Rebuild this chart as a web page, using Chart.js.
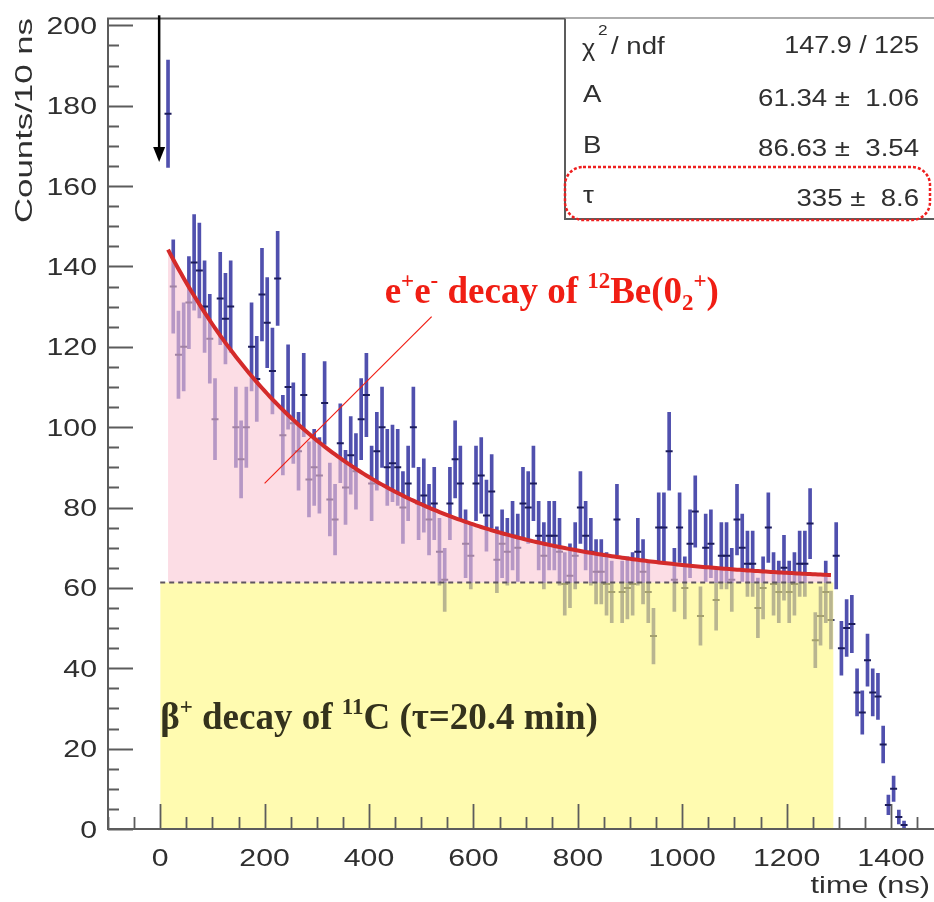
<!DOCTYPE html>
<html>
<head>
<meta charset="utf-8">
<script src="https://cdn.jsdelivr.net/npm/chart.js@4.4.1/dist/chart.umd.min.js"></script>
<style>
  html, body { margin: 0; padding: 0; background: #ffffff; }
  #wrap { width: 934px; height: 902px; overflow: hidden; position: relative; }
  #c { position: absolute; left: 0; top: 0; width: 960px; height: 902px; }
</style>
</head>
<body>
<div id="wrap"><canvas id="c" width="960" height="902"></canvas></div>
<script>
// Decay-time histogram, 10 ns bins (bin centres in ns)
const binCenters = [
  15, 25, 35, 45, 55, 65, 75, 85, 95, 105, 115, 125, 135, 145, 155, 165, 175, 185, 195, 205,
  215, 225, 235, 245, 255, 265, 275, 285, 295, 305, 315, 325, 335, 345, 355, 365, 375, 385, 395, 405,
  415, 425, 435, 445, 455, 465, 475, 485, 495, 505, 515, 525, 535, 545, 555, 565, 575, 585, 595, 605,
  615, 625, 635, 645, 655, 665, 675, 685, 695, 705, 715, 725, 735, 745, 755, 765, 775, 785, 795, 805,
  815, 825, 835, 845, 855, 865, 875, 885, 895, 905, 915, 925, 935, 945, 955, 965, 975, 985, 995, 1005,
  1015, 1025, 1035, 1045, 1055, 1065, 1075, 1085, 1095, 1105, 1115, 1125, 1135, 1145, 1155, 1165, 1175, 1185, 1195, 1205,
  1215, 1225, 1235, 1245, 1255, 1265, 1275, 1285, 1295, 1305, 1315, 1325, 1335, 1345, 1355, 1365, 1375, 1385, 1395, 1405,
  1415, 1425
];

// Counts per bin
const counts = [
  178, 135, 118, 120, 131, 141, 139, 130, 122, 102,
  132, 127, 130, 100, 92, 100, 120, 112, 133, 126,
  114, 137, 98, 110, 101, 94, 108, 87, 90, 88,
  106, 82, 77, 96, 85, 93, 89, 102, 108, 86,
  94, 100, 90, 91, 90, 80, 86, 100, 81, 83,
  77, 81, 69, 62, 81, 92, 86, 71, 68, 86,
  88, 78, 84, 67, 71, 69, 73, 70, 81, 80,
  86, 73, 68, 73, 73, 69, 61, 63, 68, 80,
  73, 69, 64, 64, 61, 59, 77, 59, 60, 61,
  69, 64, 59, 48, 75, 75, 94, 62, 75, 60,
  71, 79, 53, 70, 71, 57, 68, 68, 62, 77,
  70, 66, 66, 55, 60, 75, 61, 59, 65, 59,
  61, 66, 66, 76, 47, 53, 59, 52, 68, 45,
  50, 51, 34, 29, 42, 34, 33, 21, 6, 10,
  3, 1
];

// Fit f(t) = A + B * exp(-t / tau) and its results
const fitA = 61.34, fitAErr = 1.06;
const fitB = 86.63, fitBErr = 3.54;
const fitTau = 335, fitTauErr = 8.6;
const chi2 = 147.9, ndf = 125;
const fitFrom = 15, fitTo = 1285;        // drawn range of the fit curve (ns)
const flatFrom = 0, flatTo = 1290;       // constant background band (ns)

// Axis ticks
const xTickLabels = [0, 200, 400, 600, 800, 1000, 1200, 1400];
const yTickLabels = [0, 20, 40, 60, 80, 100, 120, 140, 160, 180, 200];

// Poisson error bars
const errBars = binCenters.map((t, i) => {
  const e = Math.sqrt(counts[i]);
  return { x: t, y: [counts[i] - e, counts[i] + e] };
});
const centres = binCenters.map((t, i) => ({ x: t, y: counts[i] }));

// Fit curve samples
const curve = [];
for (let t = fitFrom; t <= fitTo; t += 5) {
  curve.push({ x: t, y: fitA + fitB * Math.exp(-t / fitTau) });
}
const flatLine = [{ x: flatFrom, y: fitA }, { x: flatTo, y: fitA }];

const AXIS_COLOR = '#5c5c5c';
const TEXT_COLOR = '#2f2f2f';

function stretchedText(ctx, text, x, y, align, sx) {
  ctx.save();
  ctx.translate(x, y);
  ctx.scale(sx, 1);
  ctx.textAlign = align;
  ctx.fillText(text, 0, 0);
  ctx.restore();
}

// ROOT-style frame, inward ticks, tick labels and axis titles
const rootFrame = {
  id: 'rootFrame',
  afterDraw(chart) {
    const { ctx, chartArea: a, scales: { x, y } } = chart;
    ctx.save();
    ctx.strokeStyle = AXIS_COLOR;
    ctx.lineWidth = 2;
    ctx.beginPath();
    ctx.moveTo(a.left, a.top); ctx.lineTo(a.right, a.top);
    ctx.lineTo(a.right, a.bottom); ctx.lineTo(a.left, a.bottom);
    ctx.closePath();
    ctx.stroke();

    ctx.lineWidth = 1.8;
    ctx.beginPath();
    for (let v = x.min; v <= x.max + 1e-6; v += 50) {
      const px = Math.round(x.getPixelForValue(v)) + 0.5;
      const len = (v % 200 === 0) ? 25 : 12;
      ctx.moveTo(px, a.bottom); ctx.lineTo(px, a.bottom - len);
    }
    for (let v = 0; v <= y.max + 1e-6; v += 5) {
      const py = Math.round(y.getPixelForValue(v)) + 0.5;
      const len = (v % 20 === 0) ? 25 : 11;
      ctx.moveTo(a.left, py); ctx.lineTo(a.left + len, py);
    }
    ctx.stroke();

    ctx.fillStyle = TEXT_COLOR;
    ctx.font = '24px "Liberation Sans", Arial, sans-serif';
    ctx.textBaseline = 'alphabetic';
    xTickLabels.forEach(v => {
      stretchedText(ctx, String(v), x.getPixelForValue(v), a.bottom + 37, 'center', 1.26);
    });
    yTickLabels.forEach(v => {
      stretchedText(ctx, String(v), a.left - 11, y.getPixelForValue(v) + 8.5, 'right', 1.26);
    });

    // axis titles
    stretchedText(ctx, 'time (ns)', 930, a.bottom + 64, 'right', 1.28);
    ctx.save();
    ctx.translate(32, 18);
    ctx.rotate(-Math.PI / 2);
    ctx.scale(1.45, 1);
    ctx.textAlign = 'right';
    ctx.fillText('Counts/10 ns', 0, 0);
    ctx.restore();
    ctx.restore();
  }
};

function richText(ctx, x, y, size, family, parts) {
  let cx = x;
  parts.forEach(p => {
    const s = p.sup || p.sub ? size * 0.62 : size;
    const dy = p.sup ? -size * 0.40 : (p.sub ? size * 0.20 : 0);
    ctx.font = 'bold ' + s + 'px ' + family;
    ctx.textAlign = 'left';
    ctx.fillText(p.t, cx, y + dy);
    cx += ctx.measureText(p.t).width;
  });
}

// Arrow, labels, pointer and fit statistics box
const notes = {
  id: 'notes',
  afterDraw(chart) {
    const { ctx, chartArea: a, scales: { x, y } } = chart;
    ctx.save();

    // arrow at the start of the time window
    const ax = x.getPixelForValue(-2);
    const aTop = y.getPixelForValue(202.5);
    const aTip = y.getPixelForValue(166);
    ctx.strokeStyle = '#000';
    ctx.fillStyle = '#000';
    ctx.lineWidth = 2.5;
    ctx.beginPath();
    ctx.moveTo(ax, aTop); ctx.lineTo(ax, aTip - 12);
    ctx.stroke();
    ctx.beginPath();
    ctx.moveTo(ax - 6, aTip - 15); ctx.lineTo(ax + 6, aTip - 15); ctx.lineTo(ax, aTip);
    ctx.closePath();
    ctx.fill();

    // pointer from the label to the exponential part
    ctx.strokeStyle = '#f01e14';
    ctx.lineWidth = 1.2;
    ctx.beginPath();
    ctx.moveTo(x.getPixelForValue(200), y.getPixelForValue(86));
    ctx.lineTo(x.getPixelForValue(520), y.getPixelForValue(127.5));
    ctx.stroke();

    const serif = '"Liberation Serif", "Times New Roman", serif';
    ctx.textBaseline = 'alphabetic';
    ctx.fillStyle = '#f01e14';
    richText(ctx, x.getPixelForValue(430), y.getPixelForValue(131), 37, serif, [
      { t: 'e' }, { t: '+', sup: true }, { t: 'e' }, { t: '-', sup: true },
      { t: ' decay of ' }, { t: '12', sup: true }, { t: 'Be(0' },
      { t: '2', sub: true }, { t: '+', sup: true }, { t: ')' }
    ]);
    ctx.fillStyle = '#34321c';
    richText(ctx, x.getPixelForValue(0), y.getPixelForValue(25), 37, serif, [
      { t: 'β' }, { t: '+', sup: true }, { t: ' decay of ' }, { t: '11', sup: true },
      { t: 'C (τ=20.4 min)' }
    ]);

    // statistics box
    const bx = 565, by = a.top, bw = 400, bh = 219 - a.top;
    ctx.fillStyle = '#ffffff';
    ctx.fillRect(bx, by, bw, bh);
    ctx.strokeStyle = AXIS_COLOR;
    ctx.lineWidth = 2;
    ctx.beginPath();
    ctx.moveTo(bx, by); ctx.lineTo(bx, by + bh); ctx.lineTo(bx + bw, by + bh);
    ctx.stroke();

    ctx.fillStyle = TEXT_COLOR;
    const sans = '"Liberation Sans", Arial, sans-serif';
    ctx.font = '23px ' + sans;
    stretchedText(ctx, 'χ', 582, 56, 'left', 1.1);
    ctx.font = '15px ' + sans;
    stretchedText(ctx, '2', 598, 35, 'left', 1.15);
    ctx.font = '23px ' + sans;
    stretchedText(ctx, '/ ndf', 611, 54, 'left', 1.2);
    stretchedText(ctx, 'A', 583, 102, 'left', 1.2);
    stretchedText(ctx, 'B', 583, 153, 'left', 1.2);
    stretchedText(ctx, 'τ', 583, 203, 'left', 1.2);
    const vx = 919;
    stretchedText(ctx, chi2.toFixed(1) + ' / ' + ndf, vx, 53, 'right', 1.17);
    stretchedText(ctx, fitA.toFixed(2) + ' ±  ' + fitAErr.toFixed(2), vx, 106, 'right', 1.2);
    stretchedText(ctx, fitB.toFixed(2) + ' ±  ' + fitBErr.toFixed(2), vx, 156, 'right', 1.2);
    stretchedText(ctx, fitTau + ' ±  ' + fitTauErr.toFixed(1), vx, 206, 'right', 1.2);

    // highlight around the lifetime row
    ctx.strokeStyle = '#ee1f1f';
    ctx.lineWidth = 2.5;
    ctx.setLineDash([3, 2]);
    ctx.beginPath();
    ctx.roundRect(565, 167, 365, 53, 18);
    ctx.stroke();
    ctx.setLineDash([]);
    ctx.restore();
  }
};

new Chart(document.getElementById('c'), {
  type: 'line',
  data: {
    datasets: [
      {
        type: 'bar',
        data: errBars,
        backgroundColor: '#5050ae',
        borderWidth: 0,
        barThickness: 3,
        grouped: false,
        order: 4
      },
      {
        type: 'scatter',
        data: centres,
        pointStyle: 'line',
        pointRadius: 3.5,
        pointBorderWidth: 2,
        pointBorderColor: '#1c1c5c',
        pointBackgroundColor: '#1c1c5c',
        showLine: false,
        order: 3
      },
      {
        type: 'line',
        data: flatLine,
        backgroundColor: 'rgba(255, 248, 123, 0.6)',
        borderWidth: 0,
        pointRadius: 0,
        fill: 'origin',
        order: 2
      },
      {
        type: 'line',
        data: curve,
        backgroundColor: 'rgba(250, 198, 212, 0.6)',
        borderColor: '#d42b2b',
        borderWidth: 4,
        pointRadius: 0,
        tension: 0,
        fill: { value: fitA },
        order: 1
      },
      {
        type: 'line',
        data: flatLine,
        borderColor: '#5f5560',
        borderWidth: 2,
        borderDash: [5, 4],
        pointRadius: 0,
        fill: false,
        order: 0
      }
    ]
  },
  options: {
    responsive: false,
    animation: false,
    events: [],
    layout: { padding: { top: 18.5, right: 16.8, left: 0, bottom: 0 } },
    plugins: { legend: { display: false }, tooltip: { enabled: false } },
    scales: {
      x: {
        type: 'linear', min: -100, max: 1500, offset: false,
        grid: { display: false, drawTicks: false, offset: false },
        border: { display: false },
        ticks: { display: false },
        afterFit(s) { s.height = 73; }
      },
      y: {
        type: 'linear', min: 0, max: 201.7,
        grid: { display: false, drawTicks: false },
        border: { display: false },
        ticks: { display: false },
        afterFit(s) { s.width = 108; }
      }
    }
  },
  plugins: [rootFrame, notes]
});
</script>
</body>
</html>
